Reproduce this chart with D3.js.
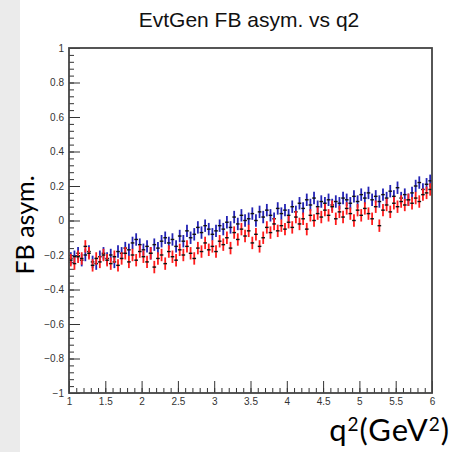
<!DOCTYPE html>
<html>
<head>
<meta charset="utf-8">
<script src="https://cdn.jsdelivr.net/npm/d3@7"></script>
<style>
  html, body { margin: 0; padding: 0; background: #fff; }
  svg { display: block; }
</style>
</head>
<body>
<svg id="chart" width="454" height="452"></svg>
<script>
// q2 binning: 100 bins of width 0.05 GeV^2 from 1 to 6
const binLo = 1, binHi = 6, nBins = 100;

// forward-backward asymmetry per bin, blue sample
const blueVals = [
  -0.22, -0.21, -0.19, -0.23, -0.20, -0.18, -0.24, -0.25, -0.21, -0.19,
  -0.22, -0.20, -0.24, -0.18, -0.19, -0.16, -0.17, -0.13, -0.11, -0.14,
  -0.17, -0.15, -0.19, -0.14, -0.16, -0.12, -0.10, -0.13, -0.11, -0.15,
  -0.09, -0.12, -0.06, -0.10, -0.08, -0.04, -0.07, -0.03, -0.05, -0.08,
  -0.06, -0.03, -0.05, -0.01, -0.04,  0.02, -0.02,  0.03,  0.00,  0.01,
   0.04,  0.00,  0.05,  0.02,  0.06,  0.03,  0.01,  0.07,  0.04,  0.06,
   0.03,  0.08,  0.05,  0.10,  0.07,  0.12,  0.09,  0.13,  0.08,  0.11,
   0.10,  0.12,  0.09,  0.11,  0.10,  0.13,  0.12,  0.10,  0.14,  0.11,
   0.15,  0.13,  0.16,  0.12,  0.14,  0.11,  0.15,  0.13,  0.17,  0.14,
   0.19,  0.13,  0.15,  0.12,  0.16,  0.20,  0.22,  0.18,  0.21,  0.23
];

// forward-backward asymmetry per bin, red sample
const redVals = [
  -0.23, -0.25, -0.21, -0.22, -0.15, -0.19, -0.26, -0.22, -0.24, -0.20,
  -0.23, -0.25, -0.21, -0.26, -0.22, -0.19, -0.24, -0.20, -0.23, -0.18,
  -0.21, -0.24, -0.19, -0.27, -0.22, -0.20, -0.25, -0.18, -0.21, -0.23,
  -0.17, -0.20, -0.15, -0.19, -0.22, -0.16, -0.18, -0.13, -0.17, -0.15,
  -0.18, -0.12, -0.14, -0.10, -0.16, -0.07, -0.11, -0.05, -0.09, -0.06,
  -0.13, -0.08, -0.15, -0.10, -0.04, -0.07, -0.02, -0.06, -0.03, -0.05,
  -0.01, -0.04,  0.02, -0.02,  0.01, -0.05,  0.03,  0.00,  0.04,  0.02,
   0.06,  0.03,  0.08,  0.01,  0.05,  0.02,  0.07,  0.04,  0.00,  0.06,
   0.03,  0.07,  0.04,  0.01,  0.08, -0.03,  0.06,  0.09,  0.05,  0.10,
   0.08,  0.11,  0.09,  0.12,  0.10,  0.13,  0.11,  0.15,  0.16,  0.18
];

// statistical error per bin
const blueErr = 0.036;
const redErr = 0.036;

const yMajorTicks = [-1, -0.8, -0.6, -0.4, -0.2, 0, 0.2, 0.4, 0.6, 0.8, 1];
const xMajorTicks = [1, 1.5, 2, 2.5, 3, 3.5, 4, 4.5, 5, 5.5, 6];

const svg = d3.select("#chart");

// left grey strip
svg.append("rect").attr("x", 0).attr("y", 0).attr("width", 20).attr("height", 452)
  .attr("fill", "#ebebeb");

const frame = { left: 69, right: 432, top: 48, bottom: 393 };
const x = d3.scaleLinear().domain([binLo, binHi]).range([frame.left, frame.right]);
const y = d3.scaleLinear().domain([-1, 1]).range([frame.bottom, frame.top]);

const binW = (binHi - binLo) / nBins;
const tickFont = "'Liberation Sans', Arial, sans-serif";
const fmt = d3.format("~g");

// minor ticks
const yMinor = d3.range(-1, 1.0001, 0.04).map(v => +v.toFixed(2));
const xMinor = d3.range(1, 6.0001, 0.1).map(v => +v.toFixed(2));

svg.append("g").attr("transform", `translate(${frame.left},0)`)
  .call(d3.axisLeft(y).tickValues(yMinor).tickSize(-5).tickFormat(""))
  .call(g => g.select(".domain").remove())
  .call(g => g.selectAll("line").attr("stroke", "#333"));

svg.append("g").attr("transform", `translate(0,${frame.bottom})`)
  .call(d3.axisBottom(x).tickValues(xMinor).tickSize(-5).tickFormat(""))
  .call(g => g.select(".domain").remove())
  .call(g => g.selectAll("line").attr("stroke", "#333"));

// major ticks with labels
svg.append("g").attr("transform", `translate(${frame.left},0)`)
  .call(d3.axisLeft(y).tickValues(yMajorTicks).tickSize(-11).tickPadding(5).tickFormat(fmt))
  .call(g => g.select(".domain").remove())
  .call(g => g.selectAll("line").attr("stroke", "#333"))
  .call(g => g.selectAll("text").attr("font-family", tickFont).attr("font-size", 10)
    .attr("fill", "#333"));

svg.append("g").attr("transform", `translate(0,${frame.bottom})`)
  .call(d3.axisBottom(x).tickValues(xMajorTicks).tickSize(-12).tickPadding(5).tickFormat(fmt))
  .call(g => g.select(".domain").remove())
  .call(g => g.selectAll("line").attr("stroke", "#333"))
  .call(g => g.selectAll("text").attr("font-family", tickFont).attr("font-size", 10)
    .attr("fill", "#333"));

// data points: vertical error bar plus horizontal bin-width bar
function drawSeries(vals, err, color) {
  const g = svg.append("g");
  const pts = vals.map((v, i) => ({ c: binLo + binW * (i + 0.5), v }));
  g.selectAll("line.err").data(pts).join("line")
    .attr("x1", d => x(d.c)).attr("x2", d => x(d.c))
    .attr("y1", d => y(d.v - err)).attr("y2", d => y(d.v + err))
    .attr("stroke", color).attr("stroke-width", 1.8);
  g.selectAll("line.bin").data(pts).join("line")
    .attr("x1", d => x(d.c - binW / 2)).attr("x2", d => x(d.c + binW / 2))
    .attr("y1", d => y(d.v)).attr("y2", d => y(d.v))
    .attr("stroke", "#111").attr("stroke-width", 1.4);
}
drawSeries(blueVals, blueErr, "#2323b4");
drawSeries(redVals, redErr, "#ff1c1c");

// frame
svg.append("rect")
  .attr("x", frame.left).attr("y", frame.top)
  .attr("width", frame.right - frame.left).attr("height", frame.bottom - frame.top)
  .attr("fill", "none").attr("stroke", "#444").attr("stroke-width", 1.8);

// title
svg.append("text").attr("x", 249).attr("y", 27).attr("text-anchor", "middle")
  .attr("font-family", tickFont).attr("font-size", 21).attr("fill", "#111")
  .text("EvtGen FB asym. vs q2");

// axis titles
const labelFont = "Lato, 'Open Sans', sans-serif";
svg.append("text")
  .attr("transform", "translate(34,225) rotate(-90)")
  .attr("text-anchor", "middle")
  .attr("font-family", labelFont).attr("font-size", 25).attr("fill", "#000")
  .text("FB asym.");

const xl = svg.append("text").attr("x", 450).attr("y", 441).attr("text-anchor", "end")
  .attr("font-family", labelFont).attr("font-size", 31).attr("letter-spacing", 1)
  .attr("fill", "#000");
xl.append("tspan").text("q");
xl.append("tspan").attr("font-size", 19).attr("dy", -10).text("2");
xl.append("tspan").attr("dy", 10).text("(GeV");
xl.append("tspan").attr("font-size", 19).attr("dy", -10).text("2");
xl.append("tspan").attr("dy", 10).text(")");
</script>
</body>
</html>
